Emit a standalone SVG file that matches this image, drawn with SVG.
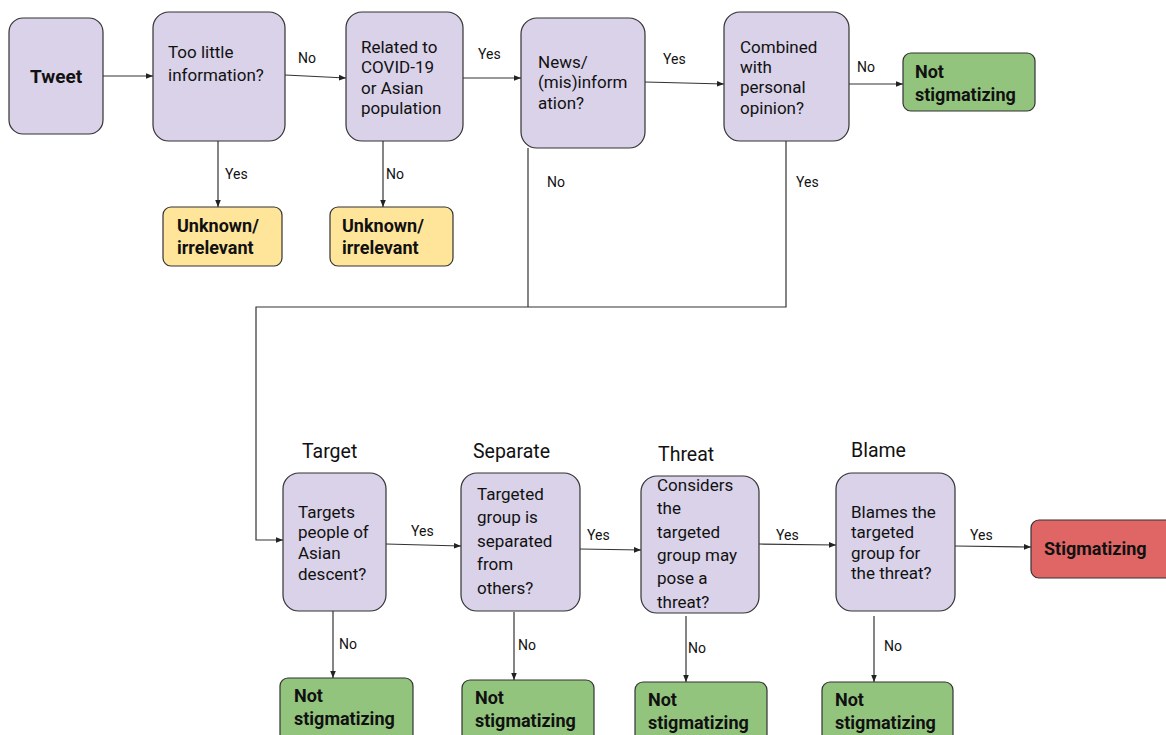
<svg xmlns="http://www.w3.org/2000/svg" width="1166" height="735" viewBox="0 0 1166 735">
<defs>
<marker id="ah" viewBox="0 0 10 10" refX="10" refY="5" markerWidth="7" markerHeight="7" orient="auto" markerUnits="userSpaceOnUse">
<path d="M0,1 L10,5 L0,9 z" fill="#222"/>
</marker>
<style>
.q{fill:#d9d2e9;stroke:#333;stroke-width:1.2}
.g{fill:#93c47d;stroke:#333;stroke-width:1.2}
.y{fill:#ffe599;stroke:#333;stroke-width:1.2}
.r{fill:#e06666;stroke:#333;stroke-width:1.2}
text{font-family:Roboto,"Liberation Sans",sans-serif;fill:#111}
.t{font-size:17px}
.b{font-size:18px;font-weight:bold}
.l{font-size:14px}
.h{font-size:19.5px}
.c line,.c path{stroke:#333;stroke-width:1.2;fill:none}
</style>
</defs>
<rect width="1166" height="735" fill="#fff"/>
<g class="c">
<line x1="103" y1="76" x2="153" y2="76" marker-end="url(#ah)"/>
<line x1="285" y1="75" x2="346" y2="78" marker-end="url(#ah)"/>
<line x1="463" y1="78" x2="521" y2="78" marker-end="url(#ah)"/>
<line x1="645" y1="82" x2="724" y2="84" marker-end="url(#ah)"/>
<line x1="849" y1="84" x2="903" y2="84" marker-end="url(#ah)"/>
<line x1="218" y1="141" x2="218" y2="207" marker-end="url(#ah)"/>
<line x1="383" y1="141" x2="383" y2="207" marker-end="url(#ah)"/>
<path d="M528,148 V307"/>
<path d="M786,141 V307 H256 V540 H283" marker-end="url(#ah)"/>
<line x1="386" y1="544" x2="461" y2="546" marker-end="url(#ah)"/>
<line x1="580" y1="549" x2="641" y2="550" marker-end="url(#ah)"/>
<line x1="759" y1="544" x2="836" y2="545" marker-end="url(#ah)"/>
<line x1="955" y1="546" x2="1031" y2="547" marker-end="url(#ah)"/>
<line x1="333" y1="611" x2="333" y2="678" marker-end="url(#ah)"/>
<line x1="514" y1="612" x2="514" y2="680" marker-end="url(#ah)"/>
<line x1="686" y1="616" x2="686" y2="682" marker-end="url(#ah)"/>
<line x1="874" y1="616" x2="874" y2="682" marker-end="url(#ah)"/>
<text class="l" x="298" y="63">No</text>
<text class="l" x="478" y="59">Yes</text>
<text class="l" x="663" y="64">Yes</text>
<text class="l" x="857" y="72">No</text>
<text class="l" x="225" y="179">Yes</text>
<text class="l" x="386" y="179">No</text>
<text class="l" x="547" y="187">No</text>
<text class="l" x="796" y="187">Yes</text>
<text class="l" x="411" y="536">Yes</text>
<text class="l" x="587" y="540">Yes</text>
<text class="l" x="776" y="540">Yes</text>
<text class="l" x="970" y="540">Yes</text>
<text class="l" x="339" y="649">No</text>
<text class="l" x="518" y="650">No</text>
<text class="l" x="688" y="653">No</text>
<text class="l" x="884" y="651">No</text>
</g>
<g id="tweet"><rect class="q" x="9" y="18" width="94" height="116" rx="14"/><text class="b" x="56" y="83" text-anchor="middle" style="font-size:19px">Tweet</text></g>
<g id="too-little"><rect class="q" x="153" y="12" width="132" height="129" rx="16"/><text class="t" x="168" y="58">Too little</text><text class="t" x="168" y="81">information?</text></g>
<g id="related"><rect class="q" x="346" y="12" width="117" height="129" rx="16"/><text class="t" x="361" y="53">Related to</text><text class="t" x="361" y="73">COVID-19</text><text class="t" x="361" y="94">or Asian</text><text class="t" x="361" y="114">population</text></g>
<g id="news"><rect class="q" x="521" y="18" width="124" height="130" rx="16"/><text class="t" x="538" y="68">News/</text><text class="t" x="538" y="88">(mis)inform</text><text class="t" x="538" y="109">ation?</text></g>
<g id="combined"><rect class="q" x="724" y="12" width="125" height="129" rx="16"/><text class="t" x="740" y="53">Combined</text><text class="t" x="740" y="73">with</text><text class="t" x="740" y="93">personal</text><text class="t" x="740" y="114">opinion?</text></g>
<g id="not-stig-top"><rect class="g" x="903" y="53" width="132" height="58" rx="8"/><text class="b" x="915" y="78">Not</text><text class="b" x="915" y="101">stigmatizing</text></g>
<g id="unknown-1"><rect class="y" x="163" y="207" width="119" height="59" rx="8"/><text class="b" x="177" y="232">Unknown/</text><text class="b" x="177" y="254">irrelevant</text></g>
<g id="unknown-2"><rect class="y" x="330" y="207" width="123" height="59" rx="8"/><text class="b" x="342" y="232">Unknown/</text><text class="b" x="342" y="254">irrelevant</text></g>
<g id="target"><text class="h" x="302" y="458">Target</text><rect class="q" x="283" y="473" width="103" height="138" rx="16"/><text class="t" x="298" y="518">Targets</text><text class="t" x="298" y="538">people of</text><text class="t" x="298" y="559">Asian</text><text class="t" x="298" y="580">descent?</text></g>
<g id="separate"><text class="h" x="473" y="458">Separate</text><rect class="q" x="461" y="473" width="119" height="138" rx="16"/><text class="t" x="477" y="500">Targeted</text><text class="t" x="477" y="523">group is</text><text class="t" x="477" y="547">separated</text><text class="t" x="477" y="570">from</text><text class="t" x="477" y="594">others?</text></g>
<g id="threat"><text class="h" x="658" y="461">Threat</text><rect class="q" x="641" y="476" width="118" height="137" rx="16"/><text class="t" x="657" y="491">Considers</text><text class="t" x="657" y="514">the</text><text class="t" x="657" y="538">targeted</text><text class="t" x="657" y="561">group may</text><text class="t" x="657" y="584">pose a</text><text class="t" x="657" y="608">threat?</text></g>
<g id="blame"><text class="h" x="851" y="457">Blame</text><rect class="q" x="836" y="473" width="119" height="138" rx="16"/><text class="t" x="851" y="518">Blames the</text><text class="t" x="851" y="538">targeted</text><text class="t" x="851" y="559">group for</text><text class="t" x="851" y="579">the threat?</text></g>
<g id="stigmatizing"><rect class="r" x="1031" y="520" width="145" height="58" rx="8"/><text class="b" x="1044" y="555">Stigmatizing</text></g>
<g id="not-stig-1"><rect class="g" x="280" y="678" width="133" height="70" rx="8"/><text class="b" x="294" y="702">Not</text><text class="b" x="294" y="725">stigmatizing</text></g>
<g id="not-stig-2"><rect class="g" x="462" y="680" width="132" height="70" rx="8"/><text class="b" x="475" y="704">Not</text><text class="b" x="475" y="727">stigmatizing</text></g>
<g id="not-stig-3"><rect class="g" x="635" y="682" width="132" height="70" rx="8"/><text class="b" x="648" y="706">Not</text><text class="b" x="648" y="729">stigmatizing</text></g>
<g id="not-stig-4"><rect class="g" x="822" y="682" width="131" height="70" rx="8"/><text class="b" x="835" y="706">Not</text><text class="b" x="835" y="729">stigmatizing</text></g>
</svg>
